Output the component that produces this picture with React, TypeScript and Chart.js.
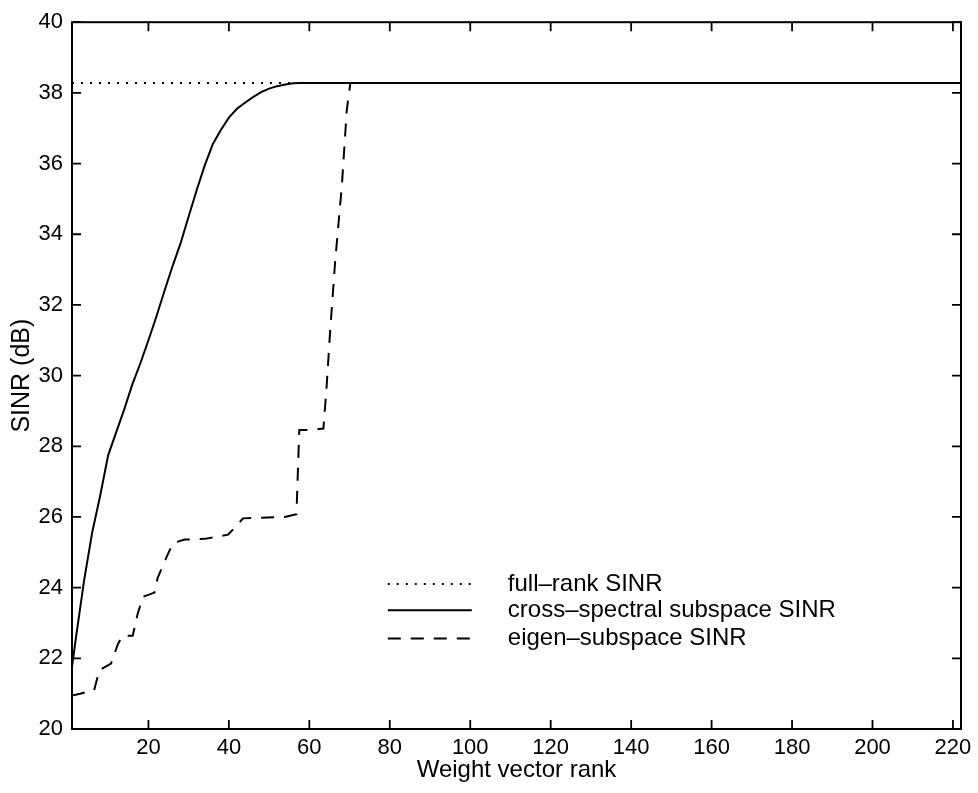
import React, { useEffect, useRef } from "react";
import { Chart, registerables } from "chart.js";

Chart.register(...registerables);

// ---- Data ----
const xTickValues = [20, 40, 60, 80, 100, 120, 140, 160, 180, 200, 220];
const yTickStep = 2;

const fullRankX = [1, 222];
const fullRankY = [38.28, 38.28];

const crossX = [1, 2, 4, 6, 8, 10, 12, 14, 16, 18, 20, 22, 24, 26, 28, 30, 32, 34, 36, 38, 40, 42, 44, 46, 48, 50, 52, 54, 56, 58, 60, 222];
const crossY = [21.75, 22.6, 24.2, 25.55, 26.6, 27.75, 28.4, 29.05, 29.75, 30.35, 31.0, 31.68, 32.4, 33.1, 33.75, 34.5, 35.25, 35.95, 36.55, 36.95, 37.3, 37.55, 37.72, 37.88, 38.02, 38.12, 38.19, 38.24, 38.27, 38.28, 38.28, 38.28];

const eigenX = [1, 3, 6.5, 7.8, 10.7, 12.4, 13.6, 16.1, 17.3, 18.6, 21.5, 22.3, 24.8, 26.1, 29, 34, 39.8, 41, 43.5, 53.9, 56.8, 57.5, 60.6, 63.5, 64.3, 65.2, 66.4, 68.1, 69.3, 70.2, 222];
const eigenY = [20.95, 21.0, 21.1, 21.66, 21.85, 22.4, 22.64, 22.64, 23.25, 23.74, 23.86, 24.28, 24.94, 25.26, 25.36, 25.38, 25.5, 25.64, 25.96, 26.0, 26.08, 28.46, 28.46, 28.5, 29.7, 31.3, 33.2, 35.4, 37.5, 38.28, 38.28];

const seriesLabels = ["full\u2013rank SINR", "cross\u2013spectral subspace SINR", "eigen\u2013subspace SINR"];
const xTitle = "Weight vector rank";
const yTitle = "SINR (dB)";

const FONT = "'Liberation Sans', Arial, Helvetica, sans-serif";

const toPts = (xs: number[], ys: number[]) => xs.map((x, i) => ({ x, y: ys[i] }));

const boxPlugin = {
  id: "matlabBox",
  afterDatasetsDraw(chart: any) {
    const { ctx, chartArea } = chart;
    const { left, right, top, bottom } = chartArea;
    const xs = chart.scales.x;
    const ys = chart.scales.y;
    const tl = 9;
    ctx.save();
    ctx.strokeStyle = "#000";
    ctx.lineWidth = 2;
    ctx.setLineDash([]);
    ctx.strokeRect(left, top, right - left, bottom - top);
    ctx.lineWidth = 1.8;
    ctx.beginPath();
    xs.ticks.forEach((t: any) => {
      const px = xs.getPixelForValue(t.value);
      ctx.moveTo(px, bottom);
      ctx.lineTo(px, bottom - tl);
      ctx.moveTo(px, top);
      ctx.lineTo(px, top + tl);
    });
    ys.ticks.forEach((t: any) => {
      const py = ys.getPixelForValue(t.value);
      ctx.moveTo(left, py);
      ctx.lineTo(left + tl, py);
      ctx.moveTo(right, py);
      ctx.lineTo(right - tl, py);
    });
    ctx.stroke();

    // legend (inside the plot, no frame)
    const ds = chart.data.datasets;
    const legendX0 = xs.getPixelForValue(80) - 2;
    const sampleLen = 84;
    const textGap = 36;
    const rowY = [ys.getPixelForValue(24.1), ys.getPixelForValue(23.36), ys.getPixelForValue(22.56)];
    ds.forEach((d: any, i: number) => {
      const y = rowY[i];
      ctx.beginPath();
      ctx.lineWidth = d.borderWidth;
      ctx.strokeStyle = d.borderColor;
      ctx.setLineDash(d.borderDash || []);
      ctx.moveTo(legendX0, y);
      ctx.lineTo(legendX0 + sampleLen, y);
      ctx.stroke();
      ctx.setLineDash([]);
      ctx.fillStyle = "#000";
      ctx.font = `24px ${FONT}`;
      ctx.textBaseline = "middle";
      ctx.textAlign = "left";
      ctx.fillText(d.label, legendX0 + sampleLen + textGap, y);
    });
    ctx.restore();
  },
};

export default function App() {
  const ref = useRef<HTMLCanvasElement | null>(null);

  useEffect(() => {
    if (!ref.current) return;
    const chart = new Chart(ref.current, {
      type: "line",
      data: {
        datasets: [
          {
            label: seriesLabels[0],
            data: toPts(fullRankX, fullRankY),
            borderColor: "#000",
            borderWidth: 2,
            borderDash: [2, 7],
            pointRadius: 0,
            order: 3,
          },
          {
            label: seriesLabels[1],
            data: toPts(crossX, crossY),
            borderColor: "#000",
            borderWidth: 2,
            pointRadius: 0,
            order: 1,
          },
          {
            label: seriesLabels[2],
            data: toPts(eigenX, eigenY),
            borderColor: "#000",
            borderWidth: 2,
            borderDash: [13, 10],
            pointRadius: 0,
            order: 2,
          },
        ],
      },
      options: {
        animation: false,
        responsive: false,
        layout: { padding: { left: 0, top: 17, right: 17, bottom: 0 } },
        plugins: { legend: { display: false }, tooltip: { enabled: false } },
        elements: { line: { tension: 0 } },
        scales: {
          x: {
            type: "linear",
            min: 1,
            max: 222,
            afterBuildTicks: (s: any) => {
              s.ticks = xTickValues.map((v) => ({ value: v }));
            },
            afterFit: (s: any) => {
              s.height = 64;
            },
            grid: { display: false, drawTicks: false },
            border: { display: false },
            ticks: { color: "#000", font: { size: 22, family: FONT }, padding: 6, maxRotation: 0, autoSkip: false },
            title: { display: true, text: xTitle, color: "#000", font: { size: 24, family: FONT }, padding: { top: 0, bottom: 8 } },
          },
          y: {
            type: "linear",
            min: 20,
            max: 40,
            afterFit: (s: any) => {
              s.width = 72;
            },
            grid: { display: false, drawTicks: false },
            border: { display: false },
            ticks: { stepSize: yTickStep, color: "#000", font: { size: 22, family: FONT }, padding: 9 },
            title: { display: true, text: yTitle, color: "#000", font: { size: 25, family: FONT }, padding: { top: 7, bottom: 0 } },
          },
        },
      },
      plugins: [boxPlugin],
    });
    return () => chart.destroy();
  }, []);

  return (
    <div style={{ position: "absolute", left: 0, top: 0, width: 978, height: 793, background: "#fff" }}>
      <canvas ref={ref} width={978} height={793} style={{ display: "block" }} />
    </div>
  );
}
